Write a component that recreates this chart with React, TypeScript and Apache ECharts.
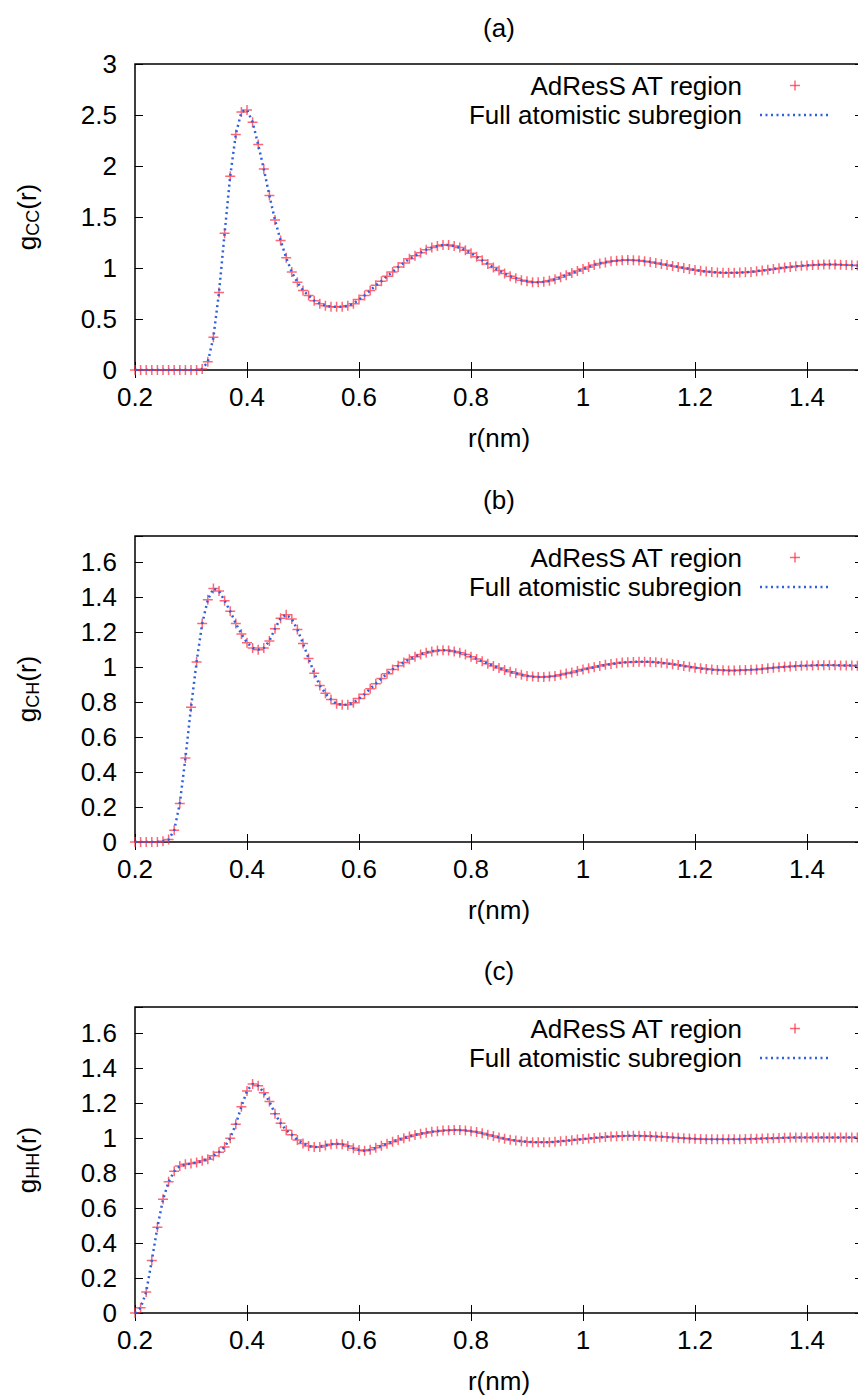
import React, { useEffect, useRef } from 'react';
import * as echarts from 'echarts';

// r (nm) sampling grid of the curves
const R = [
  0.20, 0.21, 0.22, 0.23, 0.24, 0.25, 0.26, 0.27, 0.28, 0.29,
  0.30, 0.31, 0.32, 0.33, 0.34, 0.35, 0.36, 0.37, 0.38, 0.39,
  0.40, 0.41, 0.42, 0.43, 0.44, 0.45, 0.46, 0.47, 0.48, 0.49,
  0.50, 0.51, 0.52, 0.53, 0.54, 0.55, 0.56, 0.57, 0.58, 0.59,
  0.60, 0.61, 0.62, 0.63, 0.64, 0.65, 0.66, 0.67, 0.68, 0.69,
  0.70, 0.71, 0.72, 0.73, 0.74, 0.75, 0.76, 0.77, 0.78, 0.79,
  0.80, 0.81, 0.82, 0.83, 0.84, 0.85, 0.86, 0.87, 0.88, 0.89,
  0.90, 0.91, 0.92, 0.93, 0.94, 0.95, 0.96, 0.97, 0.98, 0.99,
  1.00, 1.01, 1.02, 1.03, 1.04, 1.05, 1.06, 1.07, 1.08, 1.09,
  1.10, 1.11, 1.12, 1.13, 1.14, 1.15, 1.16, 1.17, 1.18, 1.19,
  1.20, 1.21, 1.22, 1.23, 1.24, 1.25, 1.26, 1.27, 1.28, 1.29,
  1.30, 1.31, 1.32, 1.33, 1.34, 1.35, 1.36, 1.37, 1.38, 1.39,
  1.40, 1.41, 1.42, 1.43, 1.44, 1.45, 1.46, 1.47, 1.48, 1.49,
  1.50,
];

const G_CC = [
  0, 0, 0, 0, 0, 0, 0, 0, 0, 0,
  0, 0, 0.01, 0.08, 0.32, 0.76, 1.34, 1.90, 2.31, 2.53,
  2.55, 2.43, 2.21, 1.97, 1.71, 1.47, 1.27, 1.10, 0.96, 0.86,
  0.78, 0.73, 0.68, 0.65, 0.63, 0.62, 0.62, 0.62, 0.63, 0.65,
  0.69, 0.73, 0.78, 0.83, 0.87, 0.92, 0.96, 1.01, 1.05, 1.09,
  1.12, 1.15, 1.18, 1.20, 1.215, 1.225, 1.225, 1.215, 1.20, 1.175,
  1.145, 1.11, 1.075, 1.04, 1.005, 0.975, 0.945, 0.92, 0.90, 0.88,
  0.87, 0.86, 0.86, 0.865, 0.875, 0.89, 0.91, 0.93, 0.95, 0.97,
  0.99, 1.01, 1.03, 1.045, 1.055, 1.065, 1.072, 1.077, 1.078, 1.077,
  1.073, 1.067, 1.06, 1.05, 1.04, 1.03, 1.02, 1.01, 1.0, 0.99,
  0.98, 0.972, 0.965, 0.96, 0.956, 0.954, 0.953, 0.953, 0.955, 0.958,
  0.962, 0.968, 0.975, 0.982, 0.99, 0.997, 1.004, 1.01, 1.016, 1.021,
  1.025, 1.029, 1.032, 1.034, 1.035, 1.035, 1.033, 1.03, 1.027, 1.024,
  1.02,
];

const G_CH = [
  0, 0, 0, 0, 0, 0.005, 0.014, 0.067, 0.22, 0.48,
  0.77, 1.03, 1.25, 1.385, 1.45, 1.435, 1.38, 1.32, 1.25, 1.19,
  1.14, 1.11, 1.10, 1.11, 1.15, 1.22, 1.28, 1.30, 1.275, 1.215,
  1.135, 1.05, 0.965, 0.895, 0.85, 0.815, 0.79, 0.785, 0.785, 0.797,
  0.82, 0.845, 0.877, 0.905, 0.935, 0.962, 0.987, 1.008, 1.027, 1.045,
  1.06, 1.073, 1.083, 1.09, 1.095, 1.097, 1.095, 1.09, 1.082, 1.072,
  1.06, 1.047, 1.033, 1.02, 1.007, 0.995, 0.984, 0.974, 0.965, 0.957,
  0.95, 0.946, 0.944, 0.944, 0.946, 0.95, 0.956, 0.963, 0.97, 0.978,
  0.986, 0.993, 1.0, 1.007, 1.013, 1.018, 1.022, 1.026, 1.028, 1.03,
  1.031, 1.031, 1.03, 1.028, 1.025, 1.021, 1.017, 1.012, 1.007, 1.002,
  0.997, 0.993, 0.989, 0.986, 0.984, 0.982, 0.981, 0.981, 0.982, 0.983,
  0.985, 0.987, 0.99, 0.993, 0.996, 0.999, 1.002, 1.004, 1.006, 1.008,
  1.009, 1.01, 1.011, 1.011, 1.011, 1.011, 1.01, 1.01, 1.009, 1.008,
  1.008,
];

const G_HH = [
  0, 0.03, 0.12, 0.30, 0.49, 0.65, 0.75, 0.81, 0.84, 0.85,
  0.855, 0.86, 0.87, 0.88, 0.90, 0.92, 0.95, 1.0, 1.08, 1.18,
  1.27, 1.31, 1.30, 1.26, 1.21, 1.14, 1.085, 1.045, 1.02, 0.99,
  0.97, 0.955, 0.95, 0.95, 0.958, 0.965, 0.968, 0.965, 0.955, 0.942,
  0.932, 0.928, 0.934, 0.945, 0.956, 0.968, 0.979, 0.99, 1.0, 1.01,
  1.018, 1.025, 1.031, 1.036, 1.04, 1.043, 1.045, 1.046, 1.046, 1.044,
  1.04, 1.035, 1.028, 1.02, 1.012, 1.004, 0.997, 0.991, 0.986, 0.982,
  0.979, 0.977, 0.976, 0.976, 0.977, 0.979, 0.982, 0.985, 0.988, 0.992,
  0.995, 0.998, 1.001, 1.004, 1.007, 1.009, 1.011, 1.012, 1.013, 1.013,
  1.013, 1.012, 1.011, 1.01, 1.008, 1.006, 1.004, 1.002, 1.0, 0.998,
  0.996, 0.995, 0.994, 0.993, 0.993, 0.993, 0.993, 0.993, 0.994, 0.995,
  0.996, 0.997, 0.998, 0.999, 1.0, 1.001, 1.002, 1.003, 1.003, 1.004,
  1.004, 1.004, 1.004, 1.004, 1.004, 1.004, 1.004, 1.003, 1.003, 1.003,
  1.003,
];

const PANEL_TITLES = ['(a)', '(b)', '(c)'];
const PANEL_SUBS = ['CC', 'CH', 'HH'];
const PANEL_VALUES = [G_CC, G_CH, G_HH];
const Y_MAX = [3, 1.75, 1.75];
const Y_STEP = [0.5, 0.2, 0.2];
const Y_LAST_TICK = [3, 1.6, 1.6];
const X_MIN = 0.2;
const X_MAX = 1.5;
const X_STEP = 0.2;
const X_LAST_TICK = 1.4;

const SERIES_AT = 'AdResS AT region';
const SERIES_FULL = 'Full atomistic subregion';
const X_NAME = 'r(nm)';

// layout / style
const FONT = "'Liberation Sans', Arial, Helvetica, sans-serif";
const FS = 26;
const GRID_LEFT = 135;
const GRID_WIDTH = 728;
const GRID_HEIGHT = 306;
const GRID_TOPS = [64, 536, 1007];
const KEY_ROW1 = 85.5;
const KEY_ROW2 = 115;
const RED = '#ff3347';
const BLUE = '#2f60dc';
const PLUS = 'path://M0,5L10,5M5,0L5,10';

export default function App() {
  const ref = useRef<HTMLDivElement>(null);

  useEffect(() => {
    if (!ref.current) return;
    const chart = echarts.init(ref.current, null, { renderer: 'svg' });

    const textStyle = { fontFamily: FONT, fontSize: FS, color: '#000' };
    const tick = { show: true, inside: true, length: 8, lineStyle: { color: '#000', width: 1 } };

    const grids: any[] = [];
    const xAxes: any[] = [];
    const yAxes: any[] = [];
    const series: any[] = [];
    const titles: any[] = [];
    const graphics: any[] = [];

    PANEL_VALUES.forEach((vals, i) => {
      const top = GRID_TOPS[i];
      grids.push({
        left: GRID_LEFT, top, width: GRID_WIDTH, height: GRID_HEIGHT,
        show: true, borderColor: '#000', borderWidth: 1.5,
        backgroundColor: 'transparent', containLabel: false, outerBoundsMode: 'none',
      });
      titles.push({
        text: PANEL_TITLES[i], left: GRID_LEFT + GRID_WIDTH / 2, top: top - 49,
        textAlign: 'center', padding: 0,
        textStyle: { ...textStyle, fontWeight: 'normal' },
      });
      xAxes[i] = {
        type: 'value', gridIndex: i, position: 'bottom', min: X_MIN, max: X_MAX, interval: X_STEP,
        axisLine: { show: false }, axisTick: tick, splitLine: { show: false },
        axisLabel: {
          ...textStyle, margin: 14,
          formatter: (v: number) => (v > X_LAST_TICK + 1e-6 ? '' : String(Math.round(v * 10) / 10)),
        },
        name: X_NAME, nameLocation: 'middle', nameGap: 55, nameMoveOverlap: false,
        nameTextStyle: textStyle,
      };
      xAxes[i + 3] = {
        type: 'value', gridIndex: i, position: 'top', min: X_MIN, max: X_MAX, interval: X_STEP,
        axisLine: { show: false }, axisTick: tick, splitLine: { show: false },
        axisLabel: { show: false },
      };
      yAxes[i] = {
        type: 'value', gridIndex: i, position: 'left', min: 0, max: Y_MAX[i], interval: Y_STEP[i],
        axisLine: { show: false }, axisTick: tick, splitLine: { show: false },
        axisLabel: {
          ...textStyle, margin: 18,
          formatter: (v: number) => (v > Y_LAST_TICK[i] + 1e-6 ? '' : String(Math.round(v * 100) / 100)),
        },
        name: `{g|g}{s|${PANEL_SUBS[i]}}{g|(r)}`,
        nameLocation: 'middle', nameRotate: 90, nameGap: 93, nameMoveOverlap: false,
        nameTextStyle: {
          rich: {
            g: { fontFamily: FONT, fontSize: FS, color: '#000', lineHeight: 30 },
            s: { fontFamily: FONT, fontSize: 18, color: '#000', lineHeight: 18, verticalAlign: 'bottom' },
          },
        },
      };
      yAxes[i + 3] = {
        type: 'value', gridIndex: i, position: 'right', min: 0, max: Y_MAX[i], interval: Y_STEP[i],
        axisLine: { show: false }, axisTick: tick, splitLine: { show: false },
        axisLabel: { show: false },
      };

      const data = R.map((r, k) => [r, vals[k]]);
      series.push({
        type: 'scatter', name: SERIES_AT, xAxisIndex: i, yAxisIndex: i, data,
        symbol: PLUS, symbolSize: 10, silent: true, z: 2,
        itemStyle: { color: 'rgba(0,0,0,0)', borderColor: RED, borderWidth: 1.5, opacity: 0.75 },
      });
      series.push({
        type: 'line', name: SERIES_FULL, xAxisIndex: i, yAxisIndex: i, data,
        showSymbol: false, symbol: 'none', silent: true, z: 3,
        lineStyle: { color: BLUE, width: 2.5, type: [2, 3.5], cap: 'butt' },
      });

      // key (legend) drawn inside each panel
      const dy = top - GRID_TOPS[0];
      graphics.push(
        {
          type: 'text', x: 742, y: KEY_ROW1 + dy, silent: true,
          style: {
            text: SERIES_AT, fontFamily: FONT, fontSize: FS, lineHeight: 24, fill: '#000',
            align: 'right', verticalAlign: 'middle',
          },
        },
        {
          type: 'line', silent: true,
          shape: { x1: 790, y1: KEY_ROW1 + dy, x2: 800, y2: KEY_ROW1 + dy },
          style: { stroke: RED, lineWidth: 1.5, opacity: 0.75 },
        },
        {
          type: 'line', silent: true,
          shape: { x1: 795, y1: KEY_ROW1 - 5 + dy, x2: 795, y2: KEY_ROW1 + 5 + dy },
          style: { stroke: RED, lineWidth: 1.5, opacity: 0.75 },
        },
        {
          type: 'text', x: 742, y: KEY_ROW2 + dy, silent: true,
          style: {
            text: SERIES_FULL, fontFamily: FONT, fontSize: FS, lineHeight: 24, fill: '#000',
            align: 'right', verticalAlign: 'middle',
          },
        },
        {
          type: 'line', silent: true,
          shape: { x1: 760, y1: KEY_ROW2 + dy, x2: 830, y2: KEY_ROW2 + dy },
          style: { stroke: BLUE, lineWidth: 2.5, lineDash: [2, 3.5] },
        },
      );
    });

    chart.setOption({
      animation: false,
      backgroundColor: '#fff',
      title: titles,
      grid: grids,
      xAxis: xAxes,
      yAxis: yAxes,
      series,
      graphic: graphics,
    });

    return () => chart.dispose();
  }, []);

  return (
    <div
      ref={ref}
      style={{ position: 'absolute', left: 0, top: 0, width: 858, height: 1396 }}
    />
  );
}
